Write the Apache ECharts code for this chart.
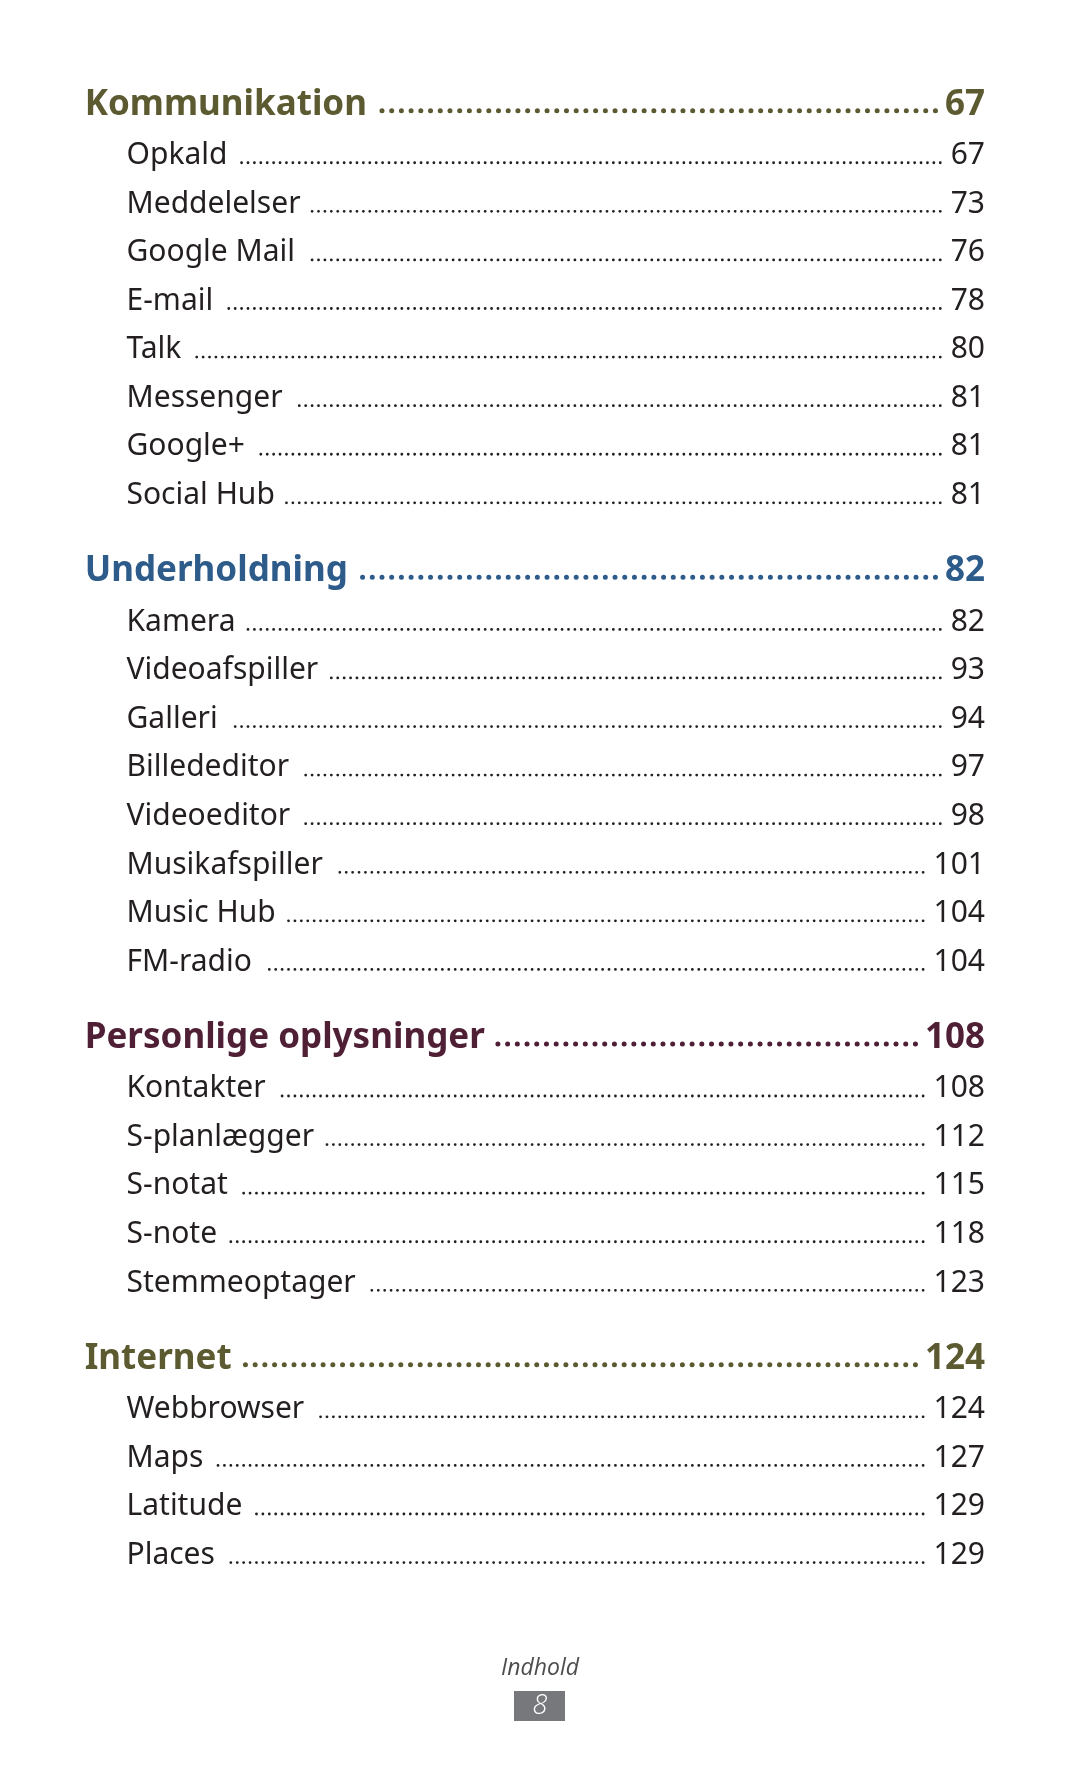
<!DOCTYPE html>
<html><head><meta charset="utf-8">
<script src="https://cdn.jsdelivr.net/npm/echarts@6/dist/echarts.min.js"></script>
<style>html,body{margin:0;padding:0;background:#fff}#c{width:1080px;height:1771px}</style>
</head><body><div id="c"></div>
<script>
// ---- data ----
const sectionTitles = ['Kommunikation', 'Underholdning', 'Personlige oplysninger', 'Internet'];
const sectionPages = [67, 82, 108, 124];
const itemNames = [
  ['Opkald', 'Meddelelser', 'Google Mail', 'E-mail', 'Talk', 'Messenger', 'Google+', 'Social Hub'],
  ['Kamera', 'Videoafspiller', 'Galleri', 'Billededitor', 'Videoeditor', 'Musikafspiller', 'Music Hub', 'FM-radio'],
  ['Kontakter', 'S-planlægger', 'S-notat', 'S-note', 'Stemmeoptager'],
  ['Webbrowser', 'Maps', 'Latitude', 'Places']
];
const itemPages = [
  [67, 73, 76, 78, 80, 81, 81, 81],
  [82, 93, 94, 97, 98, 101, 104, 104],
  [108, 112, 115, 118, 123],
  [124, 127, 129, 129]
];
const footerTitle = 'Indhold';
const pageNumber = '8';

// ---- styles ----
const sectionColors = ['#5b5a30', '#2d5b8a', '#4e1f35', '#5b5a30'];
const itemColor = '#231f20';
const FAM = '"Noto Sans", "Open Sans", sans-serif';
const H_SIZE = 35, I_SIZE = 30;
const H_FONT = 'bold ' + H_SIZE + 'px ' + FAM;
const I_FONT = 'normal ' + I_SIZE + 'px ' + FAM;

// layout (row units)
const HEAD_TO_ITEM = 1.045, ITEM_TO_HEAD = 1.56;
const UNIT = 48.58, Y0 = 101.7, H = 1771;
const H_X = 84.7, I_X = 126.5, RIGHT = 985;

const mctx = document.createElement('canvas').getContext('2d');
function tw(txt, font) { mctx.font = font; return mctx.measureText(txt).width; }

// build rows
const rows = [];
let y = 0;
sectionTitles.forEach((t, s) => {
  if (s > 0) y += ITEM_TO_HEAD;
  rows.push([y, 1, t, sectionPages[s], s]);
  y += HEAD_TO_ITEM;
  itemNames[s].forEach((n, i) => {
    if (i > 0) y += 1;
    rows.push([y, 0, n, itemPages[s][i], s]);
  });
});

const chart = echarts.init(document.getElementById('c'), null, { renderer: 'canvas' });
chart.setOption({
  animation: false,
  backgroundColor: '#fff',
  grid: { left: 0, right: 0, top: 0, bottom: 0 },
  xAxis: { type: 'value', min: 0, max: 1080, show: false },
  yAxis: { type: 'value', min: -Y0 / UNIT, max: (H - Y0) / UNIT, inverse: true, show: false },
  series: [{
    type: 'custom',
    data: rows,
    renderItem: function (params, api) {
      const r = rows[params.dataIndex];
      const py = api.coord([0, r[0]])[1];
      const head = r[1] === 1;
      const font = head ? H_FONT : I_FONT;
      const color = head ? sectionColors[r[4]] : itemColor;
      const x0 = head ? H_X : I_X;
      const label = r[2], page = String(r[3]);
      const lw = tw(label, font), pw = tw(page, font);
      const gapL = head ? 7 : 10, gapR = head ? 7 : 9;
      const dot = head ? 5 : 2.8, sp = head ? 9.7 : 6.4;
      const dy = head ? 9 : 10.3;
      const ty = py + 3;
      const xs = x0 + lw + gapL + dot / 2, xe = RIGHT - pw - gapR - dot / 2;
      return {
        type: 'group',
        children: [
          { type: 'text', x: x0, y: ty, style: { text: label, font: font, fill: color, align: 'left', verticalAlign: 'middle' } },
          { type: 'text', x: RIGHT, y: ty, style: { text: page, font: font, fill: color, align: 'right', verticalAlign: 'middle' } },
          { type: 'line', shape: { x1: xe, y1: py + dy, x2: xs, y2: py + dy },
            style: { stroke: head ? color : '#231f20', lineWidth: dot, lineCap: 'round', lineDash: [0.01, sp] } }
        ]
      };
    }
  }],
  graphic: [
    { type: 'text', x: 540, y: 1668, style: { text: footerTitle, font: 'italic normal 23px "Open Sans", sans-serif', fill: '#4d4d4f', align: 'center', verticalAlign: 'middle' } },
    { type: 'rect', shape: { x: 514, y: 1691, width: 51, height: 30 }, style: { fill: '#77787b' } },
    { type: 'text', x: 540, y: 1706, style: { text: pageNumber, font: 'italic 300 27px "Open Sans", sans-serif', fill: '#ffffff', align: 'center', verticalAlign: 'middle' } }
  ]
});
</script>
</body></html>
